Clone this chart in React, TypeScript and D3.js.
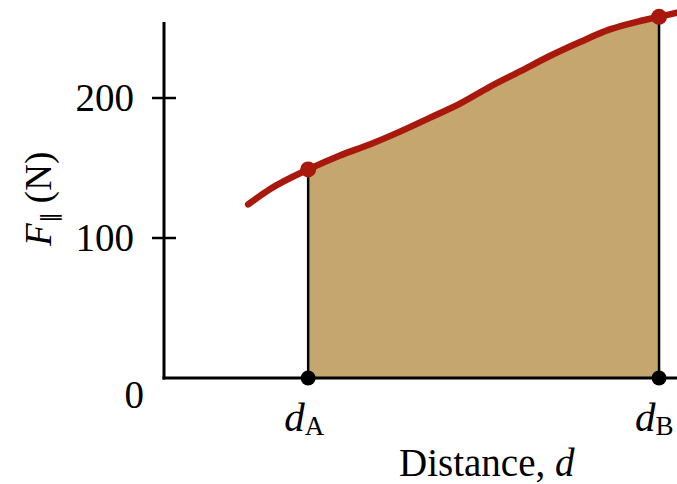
import React from 'react';
import * as d3 from 'd3';

// Force along the path vs distance (arbitrary distance units, force in N)
const curveDistance = [1.64, 2.07, 2.81, 3.43, 4.02, 4.6, 5.19, 5.77, 6.35, 6.94, 7.52, 8.11, 8.69, 9.28, 9.65, 10];
const curveForce = [124, 135, 149, 159, 167, 176, 186, 196, 208, 219, 230, 240, 249, 255, 258, 261];
const yTicks = [100, 200];
const markerNames = ['A', 'B'];
const markerDistance = [2.81, 9.65];
const markerForce = [149, 258];

const W = 677;
const H = 484;
const FONT = '"Liberation Serif", "Times New Roman", serif';
const RED = '#a8180c';
const TAN = '#c4a66e';

export default function App() {
  const x = d3.scaleLinear().domain([0, 10]).range([164, 677]);
  const y = d3.scaleLinear().domain([0, 254.3]).range([378, 22]);

  const pts: [number, number][] = curveDistance.map((d, i) => [d, curveForce[i]]);

  const line = d3.line<[number, number]>()
    .x(p => x(p[0]))
    .y(p => y(p[1]))
    .curve(d3.curveMonotoneX);

  const area = d3.area<[number, number]>()
    .x(p => x(p[0]))
    .y0(y(0))
    .y1(p => y(p[1]))
    .curve(d3.curveMonotoneX);

  const xA = x(markerDistance[0]);
  const xB = x(markerDistance[1]);

  return (
    <svg width={W} height={H} style={{ position: 'absolute', left: 0, top: 0, background: '#fff' }}
      fontFamily={FONT}>
      <defs>
        <clipPath id="band">
          <rect x={xA} y={0} width={xB - xA} height={y(0)} />
        </clipPath>
      </defs>

      {/* shaded work area */}
      <path d={area(pts) || ''} fill={TAN} clipPath="url(#band)" />

      {/* vertical bounds */}
      {markerDistance.map((d, i) => (
        <line key={i} x1={x(d)} x2={x(d)} y1={y(markerForce[i])} y2={y(0)} stroke="#000" strokeWidth={2.5} />
      ))}

      {/* axes */}
      <line x1={x(0)} x2={x(0)} y1={y(254.3)} y2={y(0) + 1.5} stroke="#000" strokeWidth={3} />
      <line x1={x(0) - 1.5} x2={W} y1={y(0)} y2={y(0)} stroke="#000" strokeWidth={3} />
      {yTicks.map(t => (
        <g key={t}>
          <line x1={x(0) - 12} x2={x(0) + 12} y1={y(t)} y2={y(t)} stroke="#000" strokeWidth={2.5} />
          <text x={134} y={y(t) + 13} textAnchor="end" fontSize={39}>{t}</text>
        </g>
      ))}
      <text x={144} y={408} textAnchor="end" fontSize={39}>0</text>

      {/* curve */}
      <path d={line(pts) || ''} fill="none" stroke={RED} strokeWidth={6.5} strokeLinecap="round" />
      {markerDistance.map((d, i) => (
        <g key={i}>
          <circle cx={x(d)} cy={y(markerForce[i])} r={8} fill={RED} />
          <circle cx={x(d)} cy={y(0)} r={7.5} fill="#000" />
          <text x={x(d) - 24} y={431} fontSize={41} fontStyle="italic">
            d<tspan fontStyle="normal" fontSize={27} dy={4}>{markerNames[i]}</tspan>
          </text>
        </g>
      ))}

      {/* axis titles */}
      <text x={399} y={476} fontSize={39}>
        Distance, <tspan fontStyle="italic">d</tspan>
      </text>
      <text transform={`translate(51,${246}) rotate(-90)`} fontSize={37}>
        <tspan fontStyle="italic">F</tspan>
        <tspan fontSize={22} dy={6}>∥</tspan>
        <tspan dy={-6}> (N)</tspan>
      </text>
    </svg>
  );
}
